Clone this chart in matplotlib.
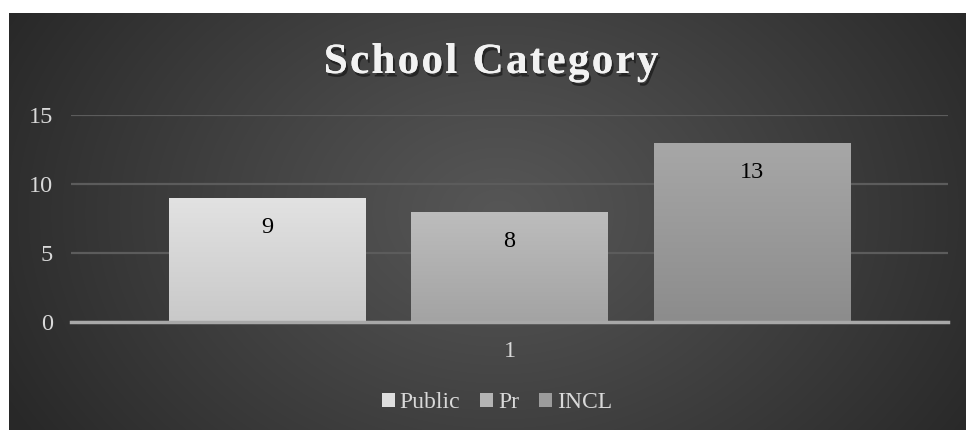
import numpy as np
import matplotlib
matplotlib.use("Agg")
import matplotlib.pyplot as plt
from matplotlib import patheffects as pe
from matplotlib.patches import Patch

# ---- data ----
title = "School Category"
categories = ["1"]
series_names = ["Public", "Pr", "INCL"]
series_values = [[9], [8], [13]]
y_ticks = [0, 5, 10, 15]

# ---- style ----
top_colors = ["#e2e2e2", "#bdbdbd", "#a7a7a7"]
bot_colors = ["#c9c9c9", "#a3a3a3", "#8c8c8c"]
legend_colors = ["#dedede", "#b4b4b4", "#9c9c9c"]
serif = ["Liberation Serif", "DejaVu Serif"]
fs = 17.5

W, H = 966, 430
fig = plt.figure(figsize=(W / 100, H / 100), dpi=100)
fig.patch.set_facecolor("white")

# background panel with radial gradient
bg = fig.add_axes([9 / W, 0, (W - 9) / W, (H - 13) / H])
bg.set_axis_off()
yy, xx = np.mgrid[0:417, 0:957]
cx, cy = 490, 200
r = np.sqrt(((xx - cx) / 560.0) ** 2 + ((yy - cy) / 420.0) ** 2)
r = np.clip(r, 0, 1)
val = (86 - (86 - 40) * r ** 1.1) / 255.0
img = np.dstack([val, val, val])
bg.imshow(img, aspect="auto", extent=[0, 1, 0, 1], interpolation="bilinear")
bg.set_xlim(0, 1)
bg.set_ylim(0, 1)

# main axes
x0, x1 = 71, 948
y_bot, y_top = 322, 115
ax = fig.add_axes([x0 / W, (H - y_bot) / H, (x1 - x0) / W, (y_bot - y_top) / H])
ax.patch.set_alpha(0)
ax.set_ylim(0, 15)
ax.set_xlim(-0.5, 0.5)

n = len(series_names)
bw = 197 / 877
step = 242.5 / 877
xs = np.arange(len(categories))
for i, (name, vals) in enumerate(zip(series_names, series_values)):
    pos = xs + (i - (n - 1) / 2) * step
    bars = ax.bar(pos, vals, width=bw, color=top_colors[i], zorder=3,
                  path_effects=[pe.withSimplePatchShadow(offset=(0, -1.5), shadow_rgbFace="black", alpha=0.45),
                                pe.Normal()])
    for b, v in zip(bars, vals):
        bx, by = b.get_x(), b.get_y()
        bwid, bh = b.get_width(), b.get_height()
        t = np.linspace(0, 1, 64)[:, None]
        c0 = np.array(matplotlib.colors.to_rgb(top_colors[i]))
        c1 = np.array(matplotlib.colors.to_rgb(bot_colors[i]))
        grad = (c0[None, None, :] * (1 - t[:, :, None]) + c1[None, None, :] * t[:, :, None])
        grad = np.repeat(grad, 2, axis=1)
        im = ax.imshow(grad, extent=[bx, bx + bwid, by, by + bh], aspect="auto",
                       zorder=4, interpolation="bilinear")
        im.set_clip_path(b)
        ax.annotate(str(v), (bx + bwid / 2, by + bh), xytext=(0, -21.5), textcoords="offset points",
                    ha="center", va="center", fontsize=fs, family=serif, color="black", zorder=6)

ax.set_xlim(-0.5, 0.5)
ax.set_ylim(0, 15)
ax.set_yticks(y_ticks)
ax.set_xticks(xs)
ax.set_xticklabels(categories)
ax.tick_params(axis="y", length=0, pad=13, labelsize=fs, labelcolor="#d9d9d9")
ax.tick_params(axis="x", length=0, pad=14, labelsize=fs, labelcolor="#d9d9d9")
for lbl in ax.get_xticklabels() + ax.get_yticklabels():
    lbl.set_family(serif)
for s in ["top", "right", "left"]:
    ax.spines[s].set_visible(False)
ax.spines["bottom"].set_color("#a8a8a8")
ax.spines["bottom"].set_linewidth(2.5)
ax.spines["bottom"].set_zorder(5)
ax.grid(axis="y", color="#5c5c5c", linewidth=1.6, zorder=0)
ax.set_axisbelow(True)

# title with letter spacing
renderer = fig.canvas.get_renderer()
tkw = dict(fontsize=31, fontweight="bold", family=serif, color="#f2f2f2")
spacing = 2.3  # px between letters
def text_width(s):
    if not s:
        return 0.0
    t = fig.text(0, 0, s, **tkw)
    w = t.get_window_extent(renderer).width
    t.remove()
    return w
total = text_width(title) + spacing * (len(title) - 1)
cx_title = 491
start = cx_title - total / 2
ty = 1 - 63 / H
for k, ch in enumerate(title):
    if ch == " ":
        continue
    xpix = start + text_width(title[:k]) + spacing * k
    fig.text(xpix / W, ty, ch, ha="left", va="center", **tkw,
             path_effects=[pe.withSimplePatchShadow(offset=(1.5, -2.5), shadow_rgbFace="black", alpha=0.45),
                           pe.Normal()])

# legend
handles = [Patch(facecolor=c, edgecolor="none") for c in legend_colors]
leg = fig.legend(handles, series_names, loc="center", bbox_to_anchor=(497 / W, 1 - 403 / H),
                 ncol=n, frameon=False, prop={"family": serif, "size": 17},
                 handlelength=0.55, handleheight=0.55, handletextpad=0.2, columnspacing=0.85,
                 labelcolor="#d9d9d9")

fig.savefig("out.png", dpi=100, facecolor="white")
